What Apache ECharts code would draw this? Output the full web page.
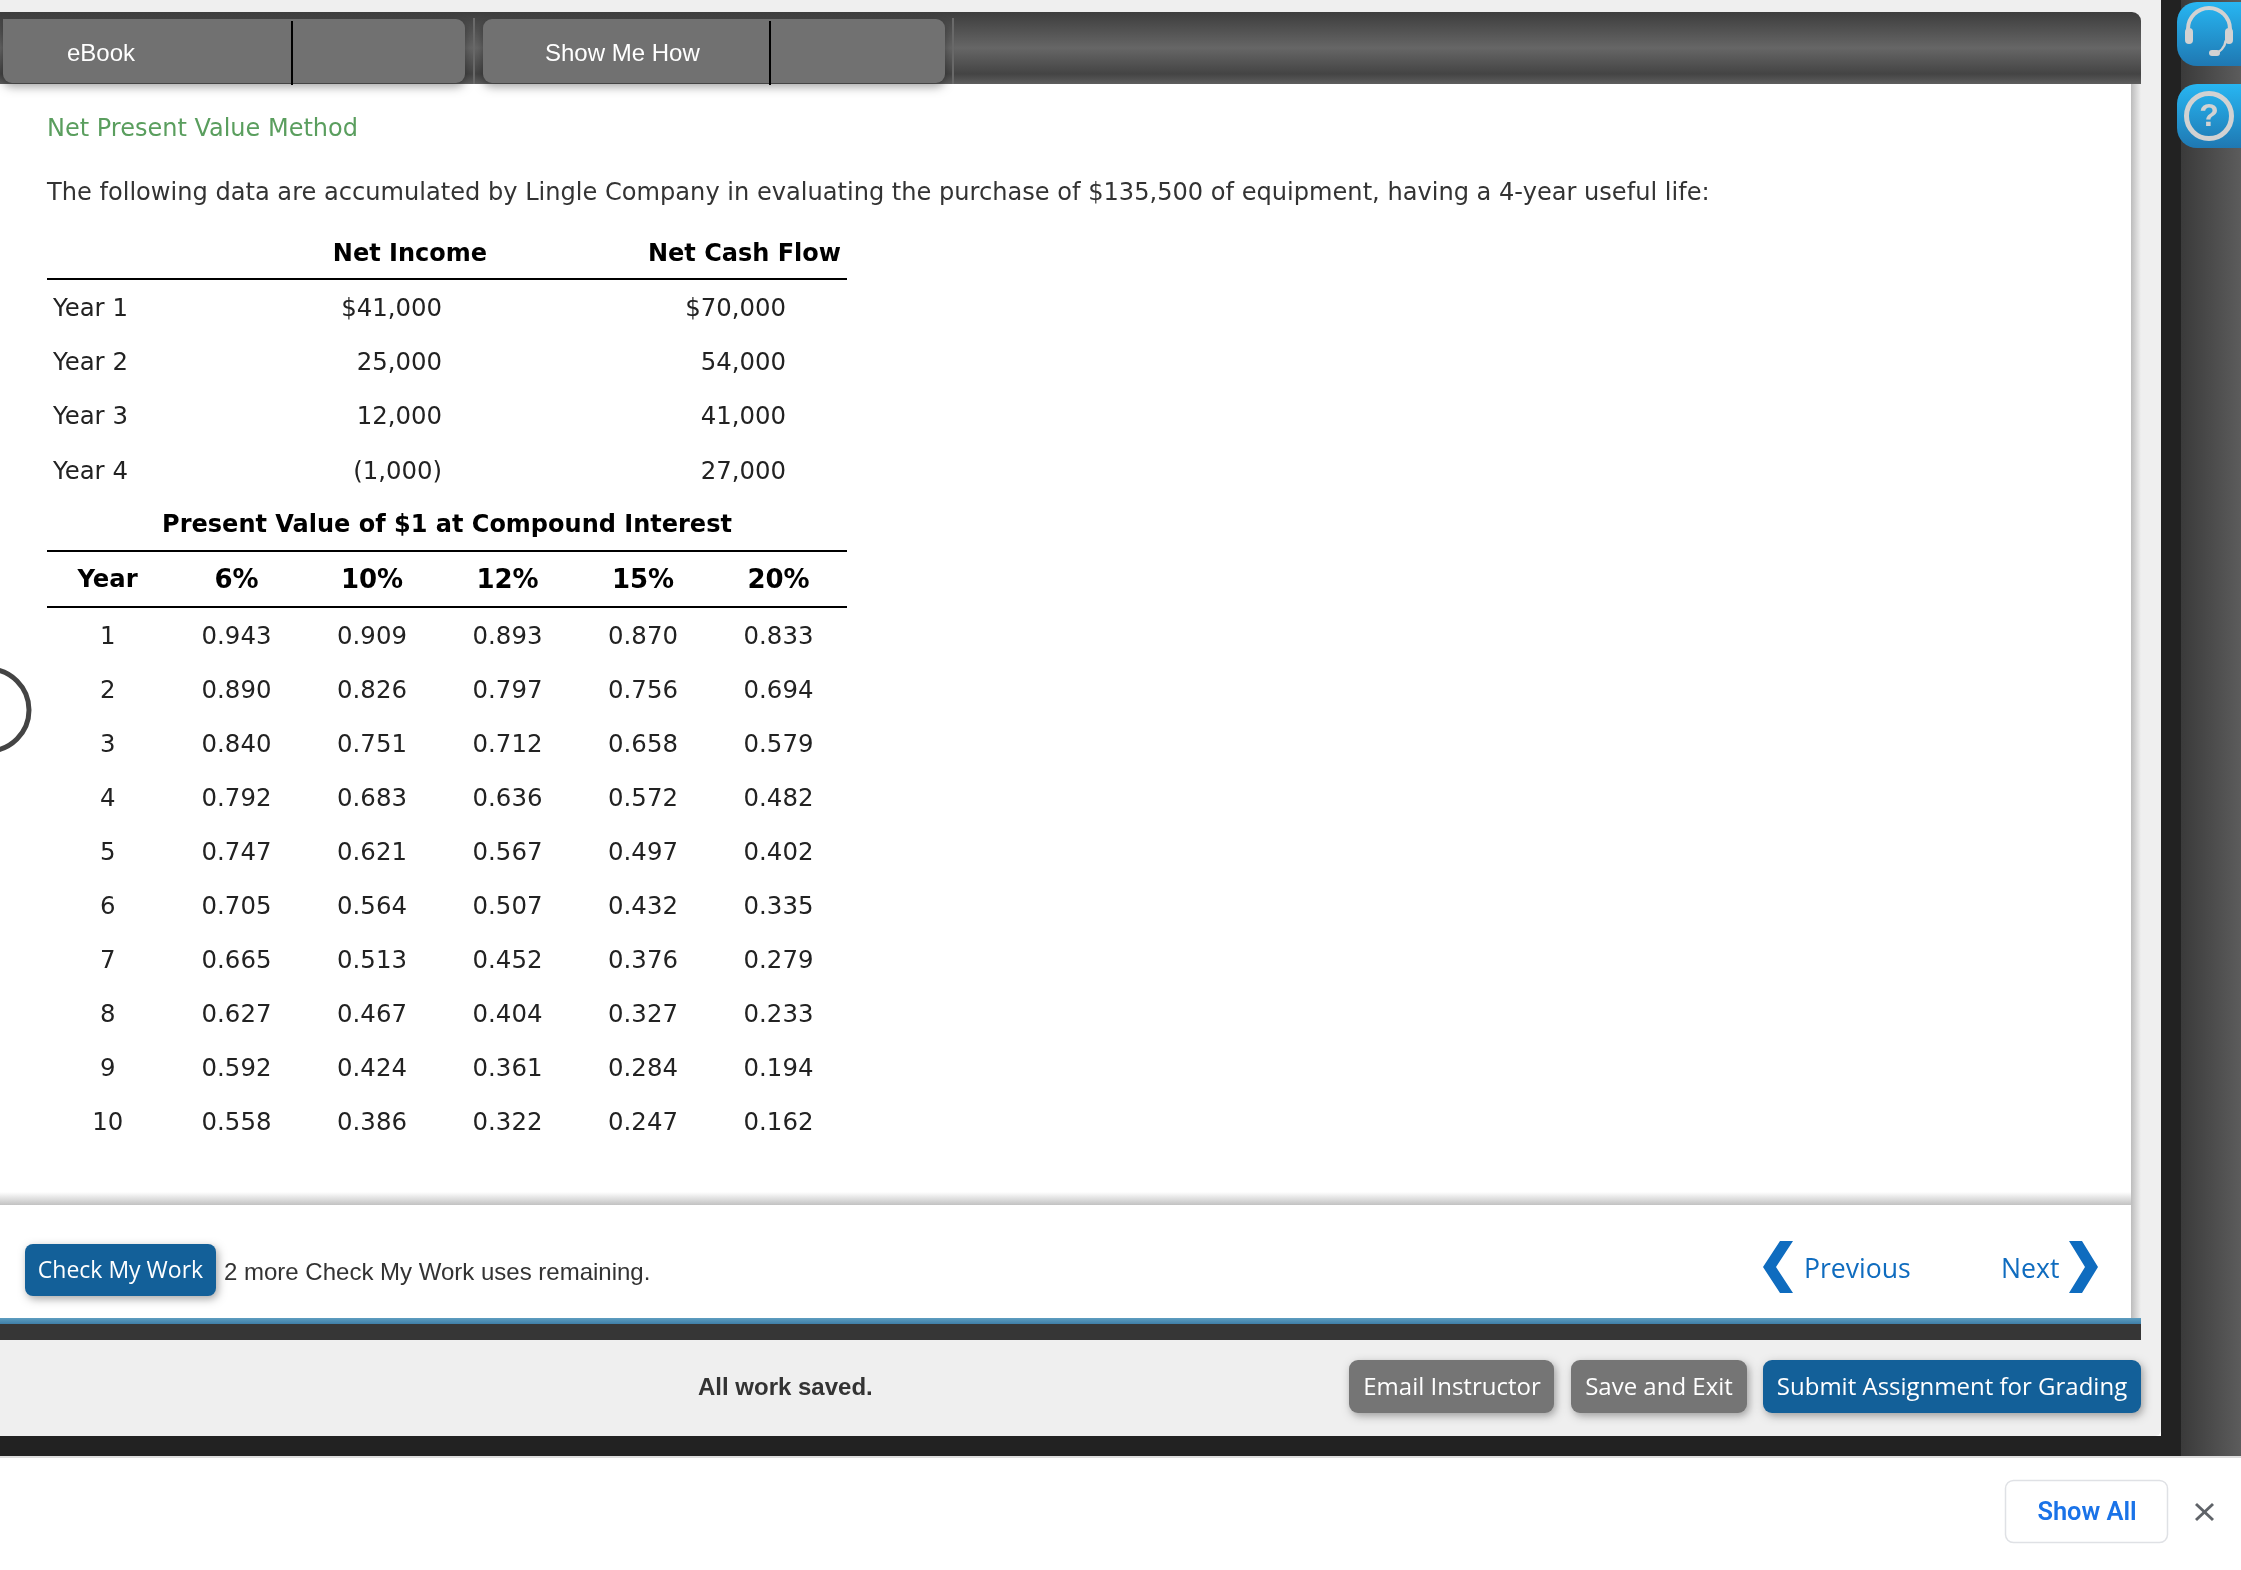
<!DOCTYPE html>
<html>
<head>
<meta charset="utf-8">
<title>Net Present Value Method</title>
<style>
html, body { margin: 0; padding: 0; background: #fff; }
#main { width: 2241px; height: 1570px; }
</style>
<script src="https://cdn.jsdelivr.net/npm/echarts@6/dist/echarts.min.js"></script>
</head>
<body>
<div id="main"></div>
<script>
// cash flow table
var flowYears = ['Year 1', 'Year 2', 'Year 3', 'Year 4'];
var flowColumns = ['Net Income', 'Net Cash Flow'];
var netIncome = [41000, 25000, 12000, -1000];
var netCashFlow = [70000, 54000, 41000, 27000];

// present value table
var pvYears = ['1', '2', '3', '4', '5', '6', '7', '8', '9', '10'];
var pvRates = ['6%', '10%', '12%', '15%', '20%'];
var rate6 = [0.943, 0.890, 0.840, 0.792, 0.747, 0.705, 0.665, 0.627, 0.592, 0.558];
var rate10 = [0.909, 0.826, 0.751, 0.683, 0.621, 0.564, 0.513, 0.467, 0.424, 0.386];
var rate12 = [0.893, 0.797, 0.712, 0.636, 0.567, 0.507, 0.452, 0.404, 0.361, 0.322];
var rate15 = [0.870, 0.756, 0.658, 0.572, 0.497, 0.432, 0.376, 0.327, 0.284, 0.247];
var rate20 = [0.833, 0.694, 0.579, 0.482, 0.402, 0.335, 0.279, 0.233, 0.194, 0.162];

var VERDANA = '"DejaVu Sans"';
var HELV = '"Liberation Sans"';
var OPEN = '"Open Sans"';

var myChart = echarts.init(document.getElementById('main'));

function money(v, i) {
    var s = Math.abs(v).toLocaleString('en-US');
    if (v < 0) return '(' + s + ')';
    return i === 0 ? '$' + s : s;
}

function box(x, y, w, h, fill, r, extra) {
    var st = { fill: fill };
    if (extra) for (var k in extra) st[k] = extra[k];
    return { type: 'rect', shape: { x: x, y: y, width: w, height: h, r: r || 0 }, style: st, silent: true };
}

function label(str, x, y, fill, font, align) {
    return {
        type: 'text', silent: true,
        style: {
            text: str, x: x, y: y, fill: fill, font: font,
            align: align || 'left', textAlign: align || 'left',
            verticalAlign: 'middle', textBaseline: 'middle'
        }
    };
}

function grad(x2, y2, stops) {
    return new echarts.graphic.LinearGradient(0, 0, x2, y2, stops);
}

function poly(points, fill) {
    return { type: 'polygon', shape: { points: points }, style: { fill: fill }, silent: true };
}

function seg(x1, y1, x2, y2, stroke, w) {
    return { type: 'line', shape: { x1: x1, y1: y1, x2: x2, y2: y2 }, style: { stroke: stroke, lineWidth: w }, silent: true };
}

var tabShadow = { shadowBlur: 10, shadowColor: 'rgba(0,0,0,0.35)', shadowOffsetY: 4 };
var btnShadow = { shadowBlur: 8, shadowColor: 'rgba(0,0,0,0.35)', shadowOffsetX: 2, shadowOffsetY: 3 };
var blueIcon = grad(0, 1, [{ offset: 0, color: '#27b6f2' }, { offset: 1, color: '#1f78b2' }]);

var chrome = [
    // page frame
    box(2181, 0, 60, 1456, grad(1, 0, [{ offset: 0, color: '#3a3a3a' }, { offset: 1, color: '#5c5c5c' }])),
    box(2161, 0, 20, 1456, '#222222'),
    box(0, 1436, 2181, 20, '#222222'),
    box(0, 1456, 2241, 2, '#dddddd'),
    box(0, 0, 2161, 1436, '#efefef', [0, 0, 6, 0]),
    box(0, 84, 2131, 1234, '#ffffff'),
    box(2131, 84, 10, 1234, grad(1, 0, [{ offset: 0, color: '#bcbcbc' }, { offset: 1, color: '#efefef' }])),
    box(0, 1192, 2131, 13, grad(0, 1, [{ offset: 0, color: '#ffffff' }, { offset: 1, color: '#c2c2c2' }])),
    box(0, 1318, 2141, 6, grad(0, 1, [{ offset: 0, color: '#5d9dc0' }, { offset: 1, color: '#3f7fa8' }])),
    box(0, 1324, 2141, 16, '#363636'),
    // top bar
    box(0, 12, 2141, 72, grad(0, 1, [
        { offset: 0, color: '#3d3d3d' }, { offset: 0.5, color: '#666666' },
        { offset: 0.86, color: '#444444' }, { offset: 1, color: '#5e5e5e' }
    ]), [0, 9, 0, 0]),
    box(473, 18, 2, 66, '#6a6a6a'),
    box(952, 18, 2, 66, '#6a6a6a'),
    box(3, 19, 462, 64, '#717171', [0, 9, 9, 9], tabShadow),
    box(483, 19, 462, 64, '#717171', 9, tabShadow),
    box(291, 21, 2, 64, '#000000'),
    box(769, 21, 2, 64, '#000000'),
    label('eBook', 67, 54.5, '#ffffff', '24px ' + HELV),
    label('Show Me How', 545, 54.5, '#ffffff', '24px ' + HELV),
    // side icons
    box(2177, 2, 90, 64, blueIcon, 20),
    box(2177, 84, 90, 64, blueIcon, 20),
    { type: 'arc', silent: true, shape: { cx: 2209, cy: 29, r: 21, startAngle: Math.PI, endAngle: 0 },
      style: { stroke: '#d2d2d2', lineWidth: 4, fill: 'none' } },
    box(2185, 28, 8, 16, '#d2d2d2', 4),
    box(2225, 28, 8, 16, '#d2d2d2', 4),
    { type: 'arc', silent: true, shape: { cx: 2209, cy: 38, r: 17, startAngle: 0.15, endAngle: 1.3 },
      style: { stroke: '#d2d2d2', lineWidth: 2.5, fill: 'none' } },
    box(2209, 50, 11, 6, '#d2d2d2', 3),
    { type: 'circle', silent: true, shape: { cx: 2209, cy: 116, r: 22.5 },
      style: { stroke: '#d2d2d2', lineWidth: 5, fill: 'none' } },
    label('?', 2209, 117, '#d2d2d2', 'bold 32px ' + HELV, 'center'),
    // question text
    label('Net Present Value Method', 47, 130, '#5a9e5e', '24px ' + VERDANA),
    label('The following data are accumulated by Lingle Company in evaluating the purchase of $135,500 of equipment, having a 4-year useful life:', 47, 194, '#333333', '24.1px ' + VERDANA),
    box(47, 278, 800, 2, '#000000'),
    label('Present Value of $1 at Compound Interest', 447, 526, '#000000', 'bold 24px ' + VERDANA, 'center'),
    box(47, 550, 800, 2, '#000000'),
    box(47, 606, 800, 2, '#000000'),
    label('Year', 107.5, 581, '#000000', 'bold 24.3px ' + VERDANA, 'center'),
    // loading spinner clipped at left edge
    { type: 'circle', silent: true, shape: { cx: -12, cy: 710, r: 41 },
      style: { stroke: '#444444', lineWidth: 5, fill: 'none' } },
    // check my work row
    box(25, 1244, 191, 52, '#136099', 8, btnShadow),
    label('Check My Work', 120.5, 1271.5, '#ffffff', '23px ' + OPEN, 'center'),
    label('2 more Check My Work uses remaining.', 224, 1273, '#333333', '24px ' + HELV),
    poly([[1780, 1241], [1793, 1241], [1776, 1267], [1793, 1293], [1780, 1293], [1763, 1267]], '#0f6cbf'),
    label('Previous', 1804, 1270.5, '#0f6cbf', '26.6px ' + OPEN),
    label('Next', 2001, 1270.5, '#0f6cbf', '26.6px ' + OPEN),
    poly([[2069, 1241], [2082, 1241], [2098, 1267], [2082, 1293], [2069, 1293], [2085, 1267]], '#0f6cbf'),
    // footer
    label('All work saved.', 698, 1388.5, '#333333', 'bold 24px ' + HELV),
    box(1349, 1360, 205, 53, '#757575', 9, btnShadow),
    label('Email Instructor', 1452, 1388.5, '#ffffff', '24px ' + OPEN, 'center'),
    box(1571, 1360, 176, 53, '#757575', 9, btnShadow),
    label('Save and Exit', 1659, 1388.5, '#ffffff', '24px ' + OPEN, 'center'),
    box(1763, 1360, 378, 53, '#136099', 9, btnShadow),
    label('Submit Assignment for Grading', 1952, 1388.5, '#ffffff', '24px ' + OPEN, 'center'),
    // download shelf
    box(2005.5, 1480.5, 162, 62, '#ffffff', 8, { stroke: '#dfe1e5', lineWidth: 1.5 }),
    label('Show All', 2087, 1514, '#1a73e8', '600 25.4px Roboto', 'center'),
    seg(2196, 1504, 2213, 1520, '#5f6368', 3),
    seg(2213, 1504, 2196, 1520, '#5f6368', 3)
];

var cellFont = { fontFamily: VERDANA, fontSize: 24.4, color: '#222222' };
var headFont = { fontFamily: VERDANA, fontSize: 24, fontWeight: 'bold', color: '#000000' };
var rateFont = { fontFamily: VERDANA, fontSize: 26, fontWeight: 'bold', color: '#000000' };

function flowSeries(name, col, arr, shift) {
    return {
        name: name, type: 'scatter', xAxisIndex: 0, yAxisIndex: 0,
        symbolSize: 0, silent: true, itemStyle: { opacity: 1 },
        label: {
            show: true, position: 'inside', align: 'right', offset: [shift, 0],
            fontFamily: VERDANA, fontSize: 24.4, color: '#222222',
            formatter: function (p) { return money(p.value[2], p.dataIndex); }
        },
        data: arr.map(function (v, i) { return [col, i, v]; })
    };
}

function rateSeries(col, arr) {
    return {
        name: pvRates[col], type: 'scatter', xAxisIndex: 1, yAxisIndex: 1,
        symbolSize: 0, silent: true, itemStyle: { opacity: 1 },
        label: {
            show: true, position: 'inside', align: 'center',
            fontFamily: VERDANA, fontSize: 24.4, color: '#222222',
            formatter: function (p) { return p.value[2].toFixed(3); }
        },
        data: arr.map(function (v, i) { return [col, i, v]; })
    };
}

var option = {
    animation: false,
    backgroundColor: '#ffffff',
    graphic: { elements: chrome },
    grid: [
        { left: 310, top: 282.5, width: 708, height: 217 },
        { left: 168.75, top: 610.5, width: 677.5, height: 540 }
    ],
    xAxis: [
        {
            gridIndex: 0, type: 'category', position: 'top', data: flowColumns,
            axisLine: { show: false }, axisTick: { show: false }, splitLine: { show: false },
            axisLabel: Object.assign({ interval: 0, align: 'right', margin: 16 }, headFont)
        },
        {
            gridIndex: 1, type: 'category', position: 'top', data: pvRates,
            axisLine: { show: false }, axisTick: { show: false }, splitLine: { show: false },
            axisLabel: Object.assign({ interval: 0, margin: 16 }, rateFont)
        }
    ],
    yAxis: [
        {
            gridIndex: 0, type: 'category', inverse: true, data: flowYears,
            axisLine: { show: false }, axisTick: { show: false }, splitLine: { show: false },
            axisLabel: Object.assign({ interval: 0, align: 'left', margin: 257 }, cellFont)
        },
        {
            gridIndex: 1, type: 'category', inverse: true, data: pvYears,
            axisLine: { show: false }, axisTick: { show: false }, splitLine: { show: false },
            axisLabel: Object.assign({ interval: 0, align: 'center', margin: 61 }, cellFont)
        }
    ],
    series: [
        flowSeries(flowColumns[0], 0, netIncome, -45),
        flowSeries(flowColumns[1], 1, netCashFlow, -55),
        rateSeries(0, rate6),
        rateSeries(1, rate10),
        rateSeries(2, rate12),
        rateSeries(3, rate15),
        rateSeries(4, rate20)
    ]
};
myChart.setOption(option);
</script>
</body>
</html>
